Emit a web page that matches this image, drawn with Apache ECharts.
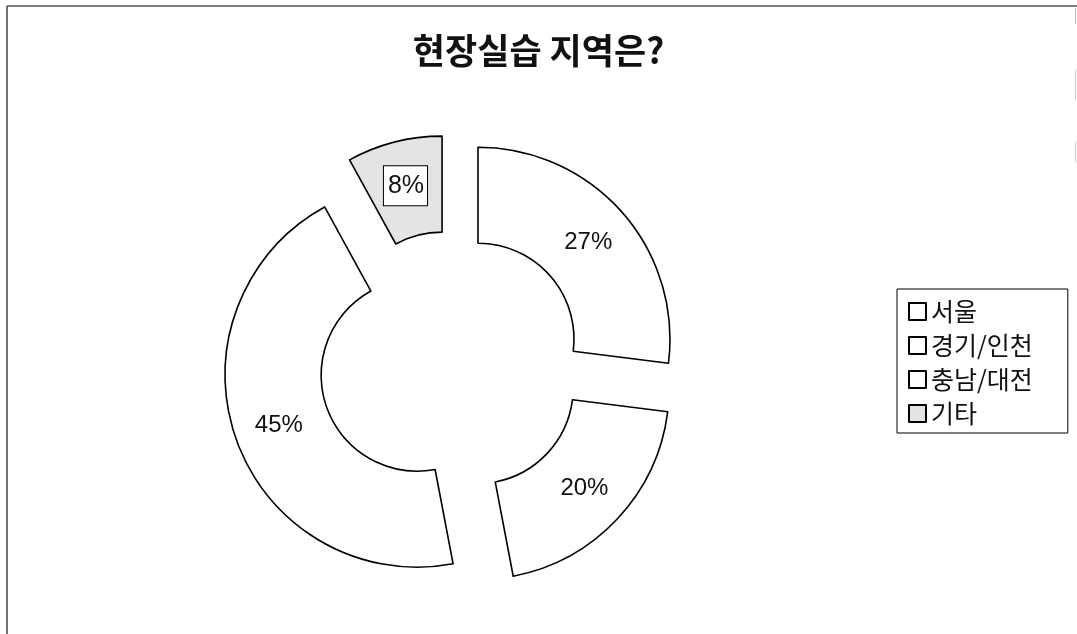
<!DOCTYPE html>
<html>
<head>
<meta charset="utf-8">
<script src="https://cdn.jsdelivr.net/npm/echarts@6/dist/echarts.min.js"></script>
<style>
html,body{margin:0;padding:0;background:#fff;}
#c{width:1077px;height:634px;}
</style>
</head>
<body>
<div id="c"></div>
<script>
const titleText = '현장실습 지역은?';
const categories = ['서울', '경기/인천', '충남/대전', '기타'];
const values = [27, 20, 45, 8];
const fills = ['#ffffff', '#ffffff', '#ffffff', '#e4e4e4'];

const chart = echarts.init(document.getElementById('c'), null, {renderer: 'canvas'});
const cjk = '"Noto Sans CJK KR", "Noto Sans", sans-serif';
const lat = '"Liberation Sans", Arial, sans-serif';

const data = categories.map((name, i) => ({
  name: name,
  value: values[i],
  selected: true,
  itemStyle: {color: fills[i]},
  label: i === 3 ? {
    backgroundColor: '#ffffff',
    borderColor: '#000000',
    borderWidth: 1,
    fontSize: 25,
    padding: [8, 3, 6, 4]
  } : {}
}));

chart.setOption({
  backgroundColor: '#ffffff',
  animation: false,
  title: {
    text: titleText,
    left: 'center',
    top: 28,
    textStyle: {fontFamily: cjk, fontSize: 35, fontWeight: 'bold', color: '#111'}
  },
  legend: {
    orient: 'vertical',
    left: 897,
    top: 289,
    padding: [10, 35, 7, 11],
    itemGap: 9,
    itemWidth: 17,
    itemHeight: 17,
    icon: 'rect',
    borderColor: '#000',
    borderWidth: 1,
    selectedMode: false,
    textStyle: {fontFamily: cjk, fontSize: 25, color: '#111'},
    data: categories
  },
  graphic: [
    {type: 'line', shape: {x1: 7, y1: 6, x2: 1077, y2: 6}, style: {stroke: '#555', lineWidth: 1.5}},
    {type: 'line', shape: {x1: 7, y1: 6, x2: 7, y2: 634}, style: {stroke: '#444', lineWidth: 1.5}},
    {type: 'line', shape: {x1: 1075.5, y1: 8, x2: 1075.5, y2: 24}, style: {stroke: '#bbb', lineWidth: 1}},
    {type: 'line', shape: {x1: 1075.5, y1: 70, x2: 1075.5, y2: 100}, style: {stroke: '#ccc', lineWidth: 1}},
    {type: 'line', shape: {x1: 1075.5, y1: 142, x2: 1075.5, y2: 162}, style: {stroke: '#ccc', lineWidth: 1}}
  ],
  series: [{
    type: 'pie',
    center: [451, 363],
    radius: [96, 192],
    startAngle: 90,
    clockwise: true,
    selectedMode: 'multiple',
    selectedOffset: 36,
    avoidLabelOverlap: false,
    itemStyle: {borderColor: '#000', borderWidth: 1.6},
    label: {
      show: true,
      position: 'inside',
      formatter: p => p.value + '%',
      fontFamily: lat,
      fontSize: 24,
      color: '#111'
    },
    labelLine: {show: false},
    emphasis: {disabled: true},
    select: {itemStyle: {borderColor: '#000', borderWidth: 1.6}},
    data: data
  }]
});
</script>
</body>
</html>
